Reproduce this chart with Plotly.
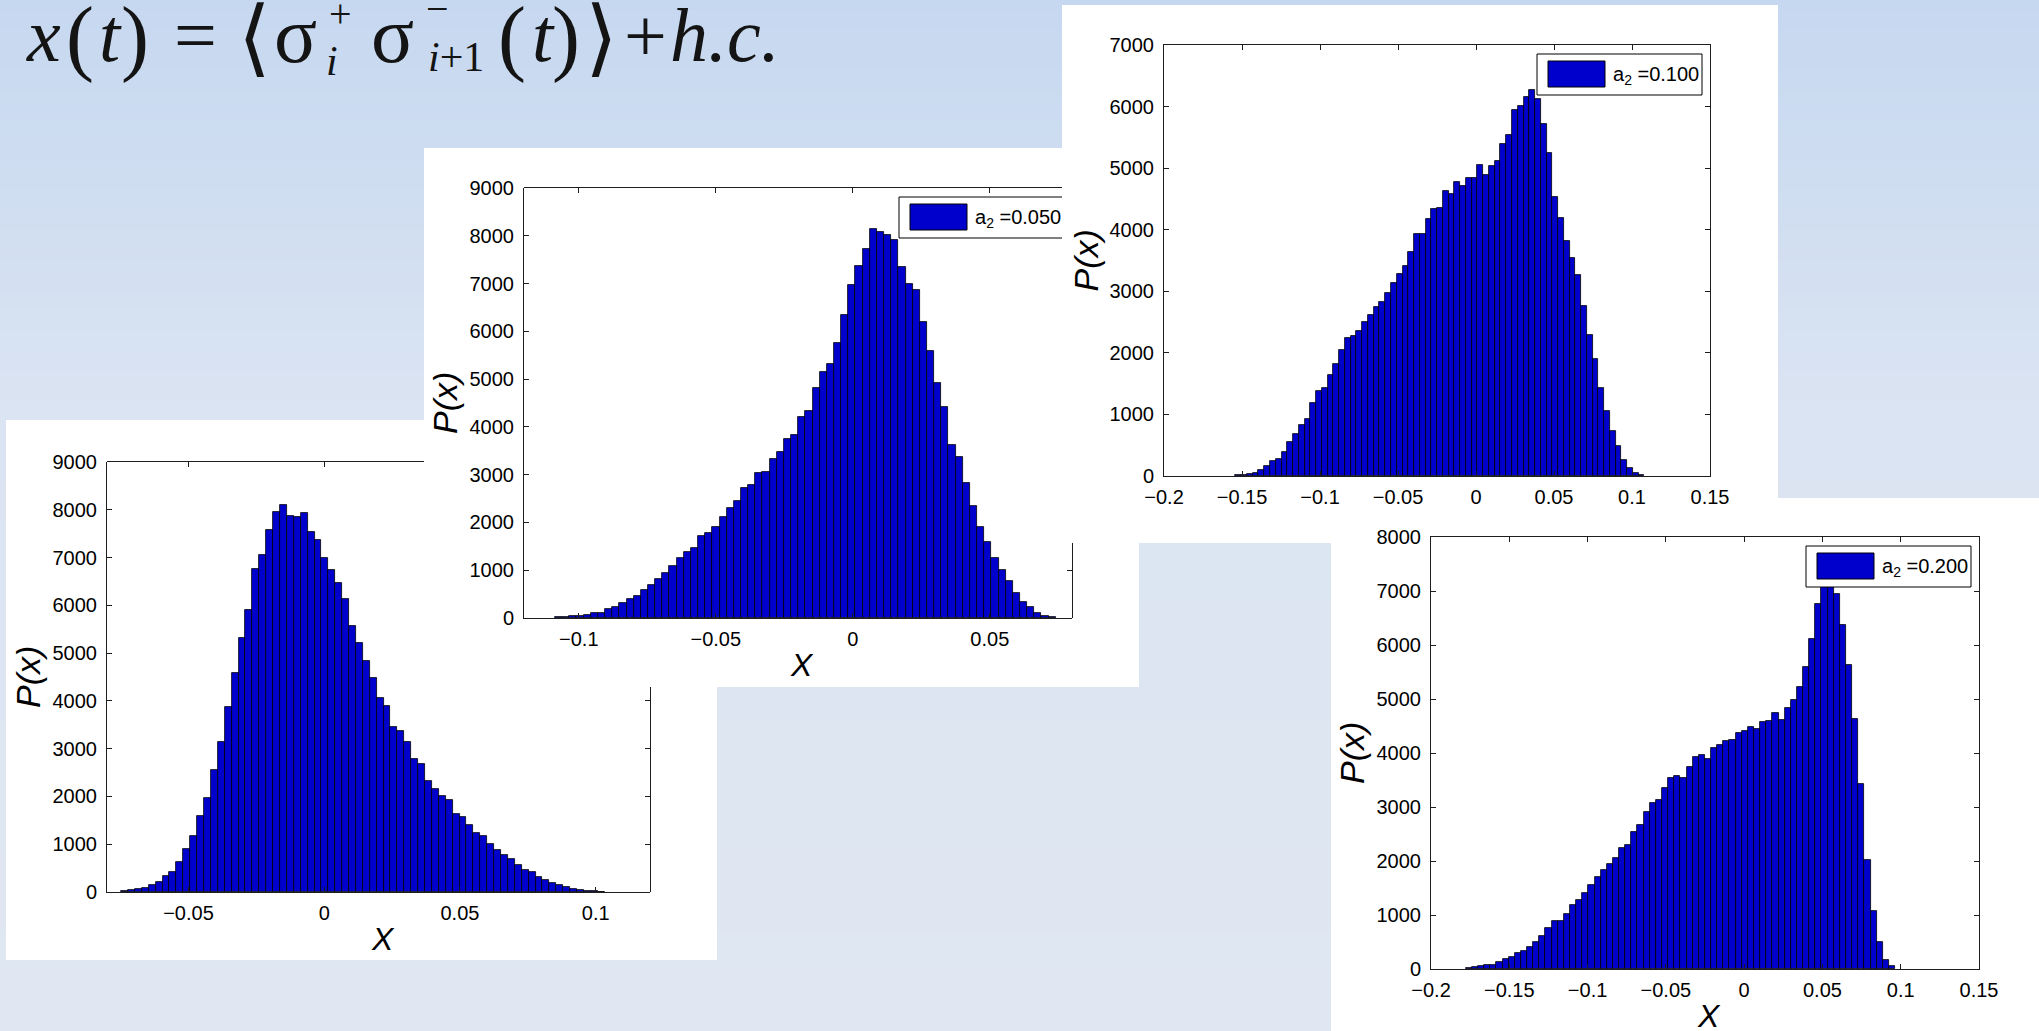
import plotly.graph_objects as go

W, H = 2039, 1031

# ---------------- data (histogram counts) ----------------
p1_counts = [15, 35, 56, 90, 139, 209, 327, 418, 634, 891, 1170, 1581, 1971, 2549, 3141,
             3879, 4589, 5313, 5912, 6769, 7061, 7577, 7953, 8099, 7869, 7855, 7939, 7542,
             7375, 6992, 6741, 6462, 6142, 5571, 5209, 4826, 4478, 4060, 3886, 3461, 3364,
             3141, 2779, 2681, 2326, 2166, 2013, 1929, 1637, 1567, 1393, 1240, 1177, 1003,
             877, 780, 682, 571, 453, 411, 320, 258, 195, 139, 111, 63, 35, 21, 14, 7]
p1_bin_start = -0.0748
p1_bin_width = 0.002544

p2_counts = [14, 28, 35, 49, 70, 104, 104, 181, 237, 306, 390, 453, 585, 682, 815, 940,
             1086, 1253, 1372, 1462, 1720, 1783, 1908, 2110, 2312, 2444, 2716, 2779, 3029,
             3050, 3329, 3468, 3753, 3823, 4213, 4324, 4805, 5153, 5313, 5759, 6351, 6964,
             7361, 7716, 8134, 8071, 8008, 7918, 7347, 6992, 6873, 6191, 5585, 4909, 4415,
             3628, 3377, 2820, 2347, 1908, 1595, 1260, 1003, 766, 529, 327, 237, 111, 49, 21]
p2_bin_start = -0.1087
p2_bin_width = 0.002611

p3_counts = [11, 22, 33, 43, 98, 163, 244, 277, 396, 559, 684, 835, 928, 1188, 1383, 1432,
             1643, 1822, 2039, 2240, 2267, 2354, 2500, 2608, 2749, 2825, 2972, 3134, 3275,
             3416, 3644, 3937, 3937, 4176, 4344, 4360, 4631, 4588, 4783, 4718, 4837, 4837,
             5049, 4881, 5038, 5119, 5390, 5537, 5944, 6004, 6161, 6269, 6123, 5722, 5250,
             4534, 4192, 3818, 3536, 3265, 2766, 2294, 1898, 1432, 1063, 727, 483, 260, 125,
             43, 16]
p3_bin_start = -0.1542
p3_bin_width = 0.003693

p4_counts = [12, 31, 62, 68, 75, 124, 193, 218, 304, 342, 416, 497, 603, 758, 883, 889,
             1026, 1187, 1274, 1411, 1554, 1709, 1840, 1939, 2057, 2244, 2299, 2529, 2672,
             2915, 3076, 3132, 3356, 3542, 3573, 3536, 3735, 3934, 3959, 3884, 4089, 4145,
             4226, 4232, 4363, 4413, 4475, 4437, 4568, 4599, 4748, 4611, 4829, 4985, 5214,
             5594, 6103, 6768, 7350, 7450, 6942, 6364, 5631, 4624, 3431, 2026, 1069, 491,
             168, 50]
p4_bin_start = -0.1778
p4_bin_width = 0.003917

legend_labels = ["", "a<sub>2</sub> =0.050", "a<sub>2</sub> =0.100", "a<sub>2</sub> =0.200"]
x_ranges = [(-0.08, 0.12), (-0.12, 0.08), (-0.2, 0.15), (-0.2, 0.15)]
y_ranges = [(0, 9000), (0, 9000), (0, 7000), (0, 8000)]

# ---------------- layout geometry (pixels) ----------------
plots = [(107, 650, 462, 892), (524, 1072, 188, 618), (1164, 1710, 45, 476), (1431, 1979, 537, 969)]
whites = [(6, 717, 420, 960), (424, 1139, 148, 687), (1062, 1778, 5, 498), (1331, 2039, 498, 1031)]

BAR = "#0000cd"
AX = "#1e1e1e"
TICKFONT = dict(family="Liberation Sans, Arial, Helvetica, sans-serif", size=20, color="black")


def X(px):
    return px / W


def Y(py):
    return 1 - py / H


fig = go.Figure()

counts = [p1_counts, p2_counts, p3_counts, p4_counts]
starts = [p1_bin_start, p2_bin_start, p3_bin_start, p4_bin_start]
widths = [p1_bin_width, p2_bin_width, p3_bin_width, p4_bin_width]

for k in range(4):
    c = counts[k]
    centers = [starts[k] + (i + 0.5) * widths[k] for i in range(len(c))]
    sfx = "" if k == 0 else str(k + 1)
    fig.add_trace(go.Bar(x=centers, y=c, width=widths[k],
                         marker=dict(color=BAR, line=dict(color="black", width=0.8)),
                         xaxis="x" + sfx, yaxis="y" + sfx, showlegend=False,
                         hoverinfo="skip"))

for k in range(5, 9):
    fig.add_trace(go.Scatter(x=[None], y=[None], xaxis="x%d" % k, yaxis="y%d" % k,
                             showlegend=False, hoverinfo="skip"))

axis_common = dict(ticks="inside", ticklen=5, tickwidth=1, tickcolor=AX, showline=True,
                   linecolor=AX, linewidth=1, showgrid=False, zeroline=False,
                   tickfont=TICKFONT, automargin=False)

layout_axes = {}
for k in range(4):
    l, r, t, b = plots[k]
    sfx = "" if k == 0 else str(k + 1)
    mirror = "ticks" if k >= 2 else False
    layout_axes["xaxis" + sfx] = dict(axis_common, domain=[X(l), X(r)], range=list(x_ranges[k]),
                                      anchor="y" + sfx, dtick=0.05, tick0=0, mirror=mirror,
                                      ticklabelstandoff=3)
    layout_axes["yaxis" + sfx] = dict(axis_common, domain=[Y(b), Y(t)], range=list(y_ranges[k]),
                                      anchor="x" + sfx, dtick=1000, tick0=0, mirror=mirror,
                                      ticklabelstandoff=5)


def xval(k, px):
    l, r, t, b = plots[k]
    x0, x1 = x_ranges[k]
    return x0 + (px - l) / (r - l) * (x1 - x0)


def yval(k, py):
    l, r, t, b = plots[k]
    y0, y1 = y_ranges[k]
    return y0 + (b - py) / (b - t) * (y1 - y0)


part = dict(axis_common, showticklabels=False)
hidden = dict(visible=False, automargin=False)
l, r, t, b = plots[0]
layout_axes["xaxis5"] = dict(part, domain=[X(l), X(whites[1][0])], range=[x_ranges[0][0], xval(0, whites[1][0])],
                             side="top", anchor="y5", dtick=0.05, tick0=0)
layout_axes["yaxis5"] = dict(hidden, domain=[Y(b), Y(t)], anchor="x5", range=[0, 1])
layout_axes["yaxis6"] = dict(part, domain=[Y(b), Y(whites[1][3])], range=[0, yval(0, whites[1][3])],
                             side="right", anchor="x6", dtick=1000, tick0=0)
layout_axes["xaxis6"] = dict(hidden, domain=[X(l), X(r)], anchor="y6", range=[0, 1])
STRIP = (1040, 1331, 498, 543)
l, r, t, b = plots[1]
layout_axes["xaxis7"] = dict(part, domain=[X(l), X(whites[2][0])], range=[x_ranges[1][0], xval(1, whites[2][0])],
                             side="top", anchor="y7", dtick=0.05, tick0=0)
layout_axes["yaxis7"] = dict(hidden, domain=[Y(b), Y(t)], anchor="x7", range=[0, 1])
layout_axes["yaxis8"] = dict(part, domain=[Y(b), Y(STRIP[3])], range=[0, yval(1, STRIP[3])],
                             side="right", anchor="x8", dtick=1000, tick0=0)
layout_axes["xaxis8"] = dict(hidden, domain=[X(l), X(r)], anchor="y8", range=[0, 1])

# ---------------- shapes ----------------
shapes = []
stops = [(0, (198, 216, 240)), (420, (219, 228, 242)), (1031, (224, 231, 242))]


def grad(yp):
    for (ya, ca), (yb, cb) in zip(stops[:-1], stops[1:]):
        if ya <= yp <= yb:
            f = (yp - ya) / (yb - ya)
            return "rgb(%d,%d,%d)" % tuple(round(ca[i] + f * (cb[i] - ca[i])) for i in range(3))
    return "rgb(%d,%d,%d)" % stops[-1][1]


band = 10
for y0 in range(0, H, band):
    y1 = min(H, y0 + band + 1)
    shapes.append(dict(type="rect", xref="paper", yref="paper", x0=0, x1=1, y0=Y(y1), y1=Y(y0),
                       fillcolor=grad((y0 + y1) / 2), line=dict(width=0), layer="below"))


def rect(box, fill, layer="below", line=None):
    l, r, t, b = box
    return dict(type="rect", xref="paper", yref="paper", x0=X(l), x1=X(r), y0=Y(b), y1=Y(t),
                fillcolor=fill, line=line or dict(width=0), layer=layer)


annotations = []


def legend(k, layer):
    l, r, t, b = plots[k]
    bx1 = r - 8
    bx0 = bx1 - 165
    by0 = t + 9
    by1 = by0 + 41
    out = [rect((bx0, bx1, by0, by1), "white", layer, dict(color="black", width=1)),
           rect((bx0 + 11, bx0 + 68, by0 + 7, by0 + 33), BAR, layer, dict(color="black", width=1))]
    annotations.append(dict(text=legend_labels[k], x=X(bx0 + 74), y=Y((by0 + by1) / 2 + 1),
                            xref="paper", yref="paper", xanchor="left", yanchor="middle",
                            showarrow=False, font=dict(family=TICKFONT["family"], size=20, color="black")))
    return out


shapes.append(rect(whites[0], "white"))
shapes.append(rect(whites[1], "white"))
shapes += legend(1, "below")
shapes.append(rect(whites[2], "white"))
shapes.append(rect(STRIP, "white"))
shapes.append(rect(whites[3], "white"))
shapes += legend(2, "above")
shapes += legend(3, "above")

TITLEFONT = dict(family="Liberation Sans, Arial, Helvetica, sans-serif", size=34, color="black")
XFONT = dict(TITLEFONT, size=32)
for k in range(4):
    l, r, t, b = plots[k]
    annotations.append(dict(text="<i>P(x)</i>", x=X(l - 79), y=Y((t + b) / 2), xref="paper", yref="paper",
                            textangle=-90, showarrow=False, xanchor="center", yanchor="middle",
                            font=TITLEFONT))
    if k != 2:
        annotations.append(dict(text="<i>X</i>", x=X((l + r) / 2 + 4), y=Y(b + 47), xref="paper",
                                yref="paper", showarrow=False, xanchor="center", yanchor="middle",
                                font=XFONT))

# slide title  x(t) = <sigma_i^+ sigma_{i+1}^-(t)> + h.c.
SERIF = "Liberation Serif, Times New Roman, DejaVu Serif, serif"
title_parts = [
    ("<i>x</i>", 43, 35, 76), ("(", 80, 37, 84), ("<i>t</i>", 110, 35, 76), (")", 135, 37, 84),
    ("=", 195, 35, 76), ("⟨", 254, 37, 84), ("σ", 295, 35, 80),
    ("+", 340, 13, 40), ("<i>i</i>", 332, 61, 42),
    ("σ", 392, 35, 80), ("−", 437, 9, 40), ("<i>i</i>+1", 456, 57, 42),
    ("(", 512, 37, 84), ("<i>t</i>", 543, 35, 76), (")", 566, 37, 84), ("⟩", 601, 37, 84),
    ("+", 645, 35, 76), ("<i>h.c.</i>", 725, 35, 76),
]
for txt, cx, cy, sz in title_parts:
    annotations.append(dict(text=txt, x=X(cx), y=Y(cy), xref="paper", yref="paper", showarrow=False,
                            xanchor="center", yanchor="middle",
                            font=dict(family=SERIF, size=sz, color="#141414")))

fig.update_layout(width=W, height=H, autosize=False,
                  margin=dict(l=0, r=0, t=0, b=0, pad=0, autoexpand=False),
                  paper_bgcolor="rgb(216,226,241)", plot_bgcolor="rgba(0,0,0,0)",
                  showlegend=False, bargap=0, shapes=shapes, annotations=annotations,
                  **layout_axes)

fig.write_html("out.html", config={"displayModeBar": False},
               post_script="document.body.style.margin='0px';document.body.style.overflow='hidden';")
